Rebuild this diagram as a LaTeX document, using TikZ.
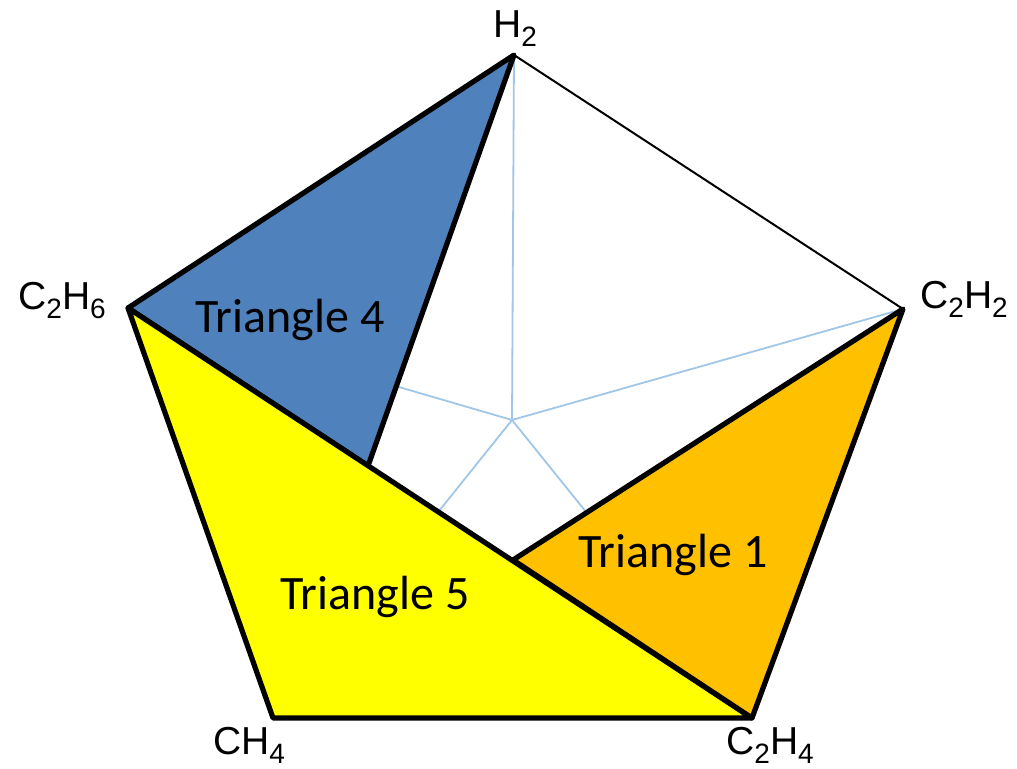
\documentclass[tikz,border=0pt]{standalone}
\usepackage{fontspec}
\setmainfont{Liberation Sans}
\newfontfamily\calib{Carlito}
\definecolor{triblue}{RGB}{79,129,189}
\definecolor{triorange}{RGB}{255,192,0}
\definecolor{triyellow}{RGB}{255,255,0}
\definecolor{radial}{RGB}{160,198,232}
\newcommand{\gsub}[1]{\raisebox{-4.5pt}{\fontsize{14}{14}\selectfont #1}}
\tikzset{
  tri/.style={draw=black,line width=2.6pt,line join=round},
  gas/.style={font=\fontsize{19.5}{22}\selectfont,inner sep=0pt},
  trilabel/.style={font=\calib\fontsize{24}{26}\selectfont,inner sep=0pt},
  radialline/.style={draw=radial,line width=0.9pt},
  outline/.style={draw=black,line width=1pt}
}
\begin{document}
\begin{tikzpicture}[x=0.5pt,y=-0.5pt]
\useasboundingbox (0,0) rectangle (1017,769);
\coordinate (H2) at (514,55);
\coordinate (C2H2) at (903,309);
\coordinate (C2H4) at (752,718);
\coordinate (CH4) at (273,718);
\coordinate (C2H6) at (128,308);
\coordinate (O) at (512,420);
\coordinate (P4) at (368,466);
\coordinate (P1) at (513,560);
% radial lines
\foreach \v in {H2,C2H2,C2H4,CH4,C2H6} \draw[radialline] (O) -- (\v);
% pentagon outline
\draw[outline] (H2) -- (C2H2) -- (C2H4) -- (CH4) -- (C2H6) -- cycle;
% triangles
\filldraw[tri,fill=triblue] (H2) -- (C2H6) -- (P4) -- cycle;
\filldraw[tri,fill=triyellow] (C2H6) -- (CH4) -- (C2H4) -- cycle;
\filldraw[tri,fill=triorange] (C2H2) -- (C2H4) -- (P1) -- cycle;
% triangle labels
\node[trilabel] (t4) at (290,320) {Triangle 4};
\node[trilabel] (t1) at (673,555) {Triangle 1};
\node[trilabel] (t5) at (375,597) {Triangle 5};
% gas labels
\node[gas,anchor=base] (lH2) at (515,38) {H\gsub{2}};
\node[gas,anchor=base] (lC2H6) at (62,310) {C\gsub{2}H\gsub{6}};
\node[gas,anchor=base] (lC2H2) at (964,309) {C\gsub{2}H\gsub{2}};
\node[gas,anchor=base] (lCH4) at (249,754) {CH\gsub{4}};
\node[gas,anchor=base] (lC2H4) at (770,754) {C\gsub{2}H\gsub{4}};
\end{tikzpicture}
\end{document}
